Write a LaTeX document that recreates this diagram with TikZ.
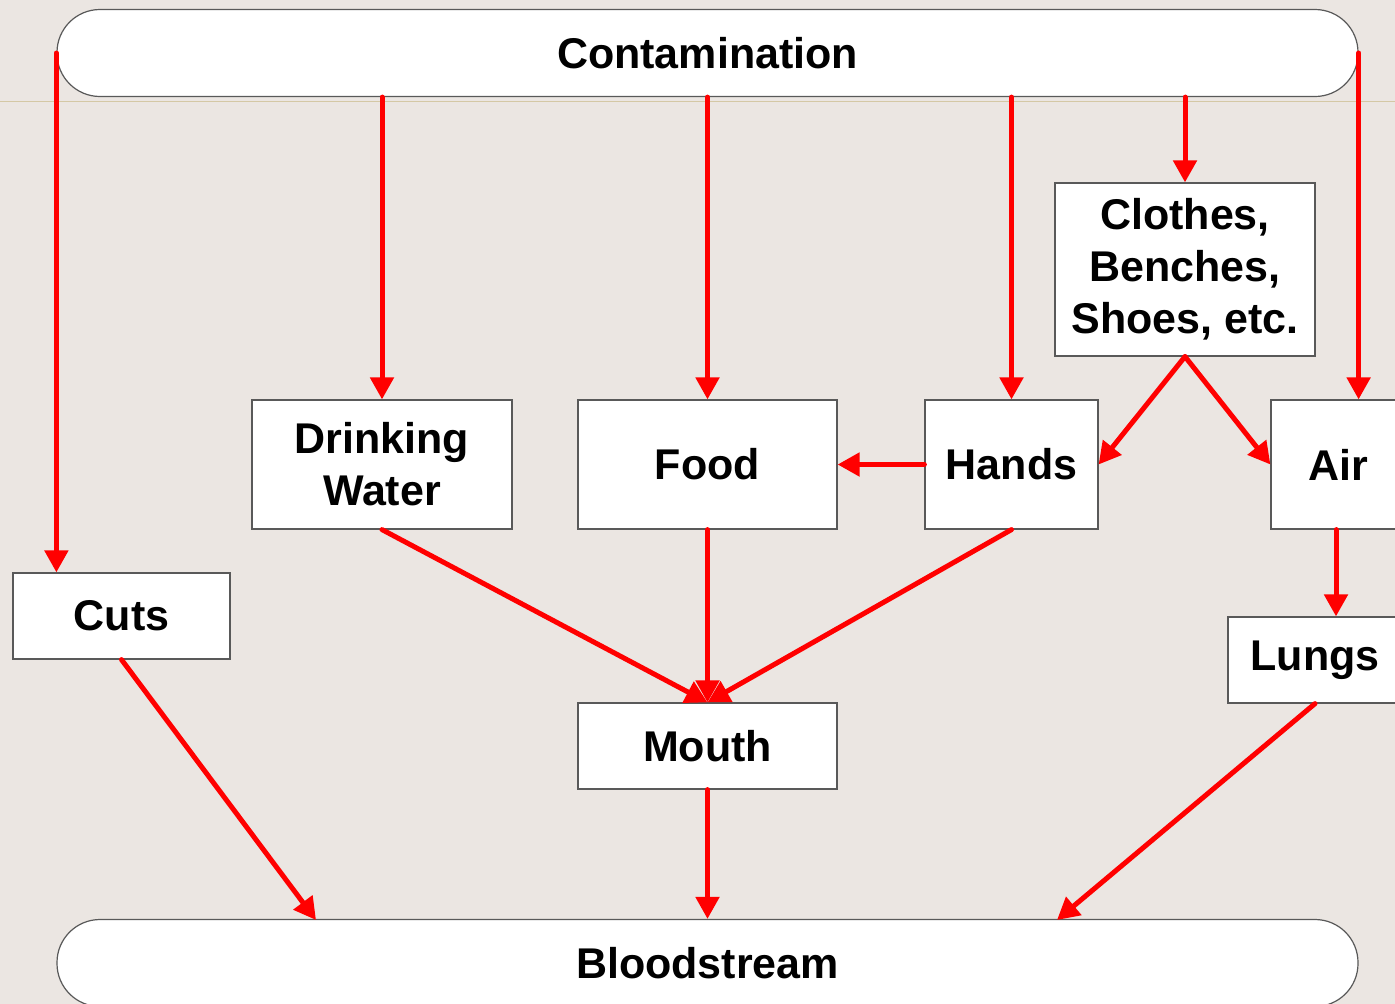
\documentclass[tikz,border=0pt]{standalone}
\usepackage{fontspec}
\setmainfont{Liberation Sans}
\usetikzlibrary{arrows.meta}
\definecolor{bg}{RGB}{235,230,226}
\definecolor{guide}{RGB}{212,200,165}
\definecolor{arr}{RGB}{255,0,0}
\tikzset{
  box/.style={draw=black!65, line width=1.2pt, fill=white, inner sep=0pt,
    font=\fontsize{43}{52}\selectfont\bfseries, align=center},
  pill/.style={box, rounded corners=43pt},
  link/.style={draw=arr, line width=5pt, line cap=round,
    -{Triangle[length=22pt,width=23pt]}, shorten >=0pt}
}
\begin{document}
\begin{tikzpicture}[x=1pt,y=-1pt]
\useasboundingbox (0,0) rectangle (1395,1004);
\clip (0,0) rectangle (1395,1004);
\fill[bg] (0,0) rectangle (1395,1004);
\draw[guide, line width=1pt] (0,101) -- (1395,101);

\node[pill, minimum width=1301pt, minimum height=87pt] (cont) at (707.5,53) {Contamination};
\node[pill, minimum width=1301pt, minimum height=87pt] (blood) at (707.5,963) {Bloodstream};

\node[box, minimum width=260pt, minimum height=173pt] (clothes) at (1185,269.5) {Clothes,\\Benches,\\Shoes, etc.};
\node[box, minimum width=260pt, minimum height=129pt] (drink) at (382,464.5) {Drinking\\Water};
\node[box, minimum width=259pt, minimum height=129pt] (food) at (707.5,464.5) {Food};
\node[box, minimum width=173pt, minimum height=129pt] (hands) at (1011.5,464.5) {Hands};
\node[box, minimum width=134pt, minimum height=129pt] (air) at (1338,464.5) {Air};
\node[box, minimum width=217pt, minimum height=86pt] (cuts) at (121.5,616) {Cuts};
\node[box, minimum width=259pt, minimum height=86pt] (mouth) at (707.5,746) {Mouth};
\node[box, minimum width=174pt, minimum height=86pt] (lungs) at (1315,660) {Lungs};

\coordinate (bcuts) at (316,920);
\coordinate (blungs) at (1057,920);

\draw[link] (cont.west) -- (cont.west |- cuts.north);
\draw[link] (drink.north |- cont.south) -- (drink.north);
\draw[link] (food.north |- cont.south) -- (food.north);
\draw[link] (hands.north |- cont.south) -- (hands.north);
\draw[link] (clothes.north |- cont.south) -- (clothes.north);
\draw[link] (cont.east) -- (cont.east |- air.north);
\draw[link] (clothes.south) -- (hands.east);
\draw[link] (clothes.south) -- (air.west);
\draw[link] (hands.west) -- (food.east);
\draw[link] ([xshift=-2pt]air.south) -- ([xshift=-2pt]air.south |- lungs.north);
\draw[link] (drink.south) -- (mouth.north);
\draw[link] (food.south) -- (mouth.north);
\draw[link] (hands.south) -- (mouth.north);
\draw[link] (cuts.south) -- (bcuts);
\draw[link] (mouth.south) -- (blood.north);
\draw[link] (lungs.south) -- (blungs);
\end{tikzpicture}
\end{document}
